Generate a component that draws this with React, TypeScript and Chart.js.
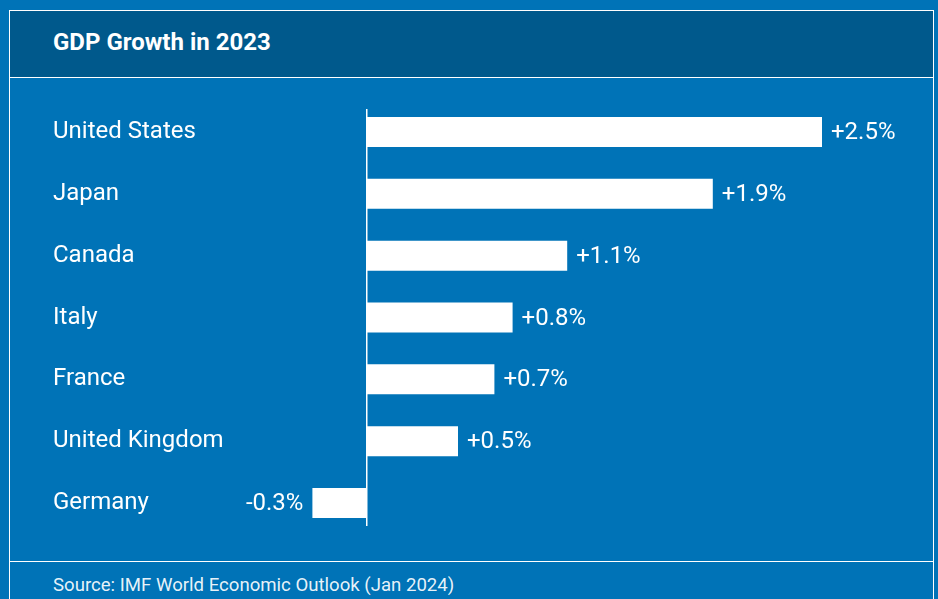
import React, { useEffect, useRef } from "react";
import { Chart, registerables } from "chart.js";

Chart.register(...registerables);

const countries = ["United States", "Japan", "Canada", "Italy", "France", "United Kingdom", "Germany"];
const growth = [2.5, 1.9, 1.1, 0.8, 0.7, 0.5, -0.3];
const xMin = -0.75;
const xMax = 3;
const titleText = "GDP Growth in 2023";
const sourceText = "Source: IMF World Economic Outlook (Jan 2024)";

const BLUE = "#0073b7";
const DARK = "#00598c";
const FONT = "Roboto, 'Noto Sans', sans-serif";

const fmt = (v: number) => (v > 0 ? "+" : "") + v.toFixed(1) + "%";

const valueLabels = {
  id: "valueLabels",
  afterDatasetsDraw(chart: any) {
    const ctx = chart.ctx;
    const meta = chart.getDatasetMeta(0);
    ctx.save();
    ctx.font = `400 24px ${FONT}`;
    ctx.fillStyle = "#ffffff";
    ctx.textBaseline = "middle";
    meta.data.forEach((bar: any, i: number) => {
      const v = growth[i];
      if (v >= 0) {
        ctx.textAlign = "left";
        ctx.fillText(fmt(v), bar.x + 9, bar.y + 1);
      } else {
        ctx.textAlign = "right";
        ctx.fillText(fmt(v), bar.x - 9, bar.y + 1);
      }
    });
    ctx.restore();
  },
};

const zeroLine = {
  id: "zeroLine",
  afterDatasetsDraw(chart: any) {
    const ctx = chart.ctx;
    const x = chart.scales.x.getPixelForValue(0);
    const { top, bottom } = chart.chartArea;
    ctx.save();
    ctx.strokeStyle = "#ffffff";
    ctx.lineWidth = 1.5;
    ctx.beginPath();
    ctx.moveTo(x - 0.25, top + 8);
    ctx.lineTo(x - 0.25, bottom - 8);
    ctx.stroke();
    ctx.restore();
  },
};

export default function App() {
  const canvasRef = useRef<HTMLCanvasElement | null>(null);

  useEffect(() => {
    const canvas = canvasRef.current;
    if (!canvas) return;
    const chart = new Chart(canvas, {
      type: "bar",
      data: {
        labels: countries,
        datasets: [
          {
            data: growth,
            backgroundColor: "#ffffff",
            borderWidth: 0,
            barPercentage: 0.485,
            categoryPercentage: 1,
          },
        ],
      },
      options: {
        indexAxis: "y",
        animation: false,
        responsive: false,
        maintainAspectRatio: false,
        layout: { padding: { top: 23, bottom: 27, left: 43, right: 20 } },
        plugins: {
          legend: { display: false },
          tooltip: { enabled: false },
        },
        scales: {
          x: {
            min: xMin,
            max: xMax,
            display: false,
          },
          y: {
            grid: { display: false },
            border: { display: false },
            ticks: {
              color: "#ffffff",
              font: { family: FONT, size: 24 },
              crossAlign: "far",
              padding: 0,
            },
            afterFit: (scale: any) => {
              scale.width = 177.5;
            },
          },
        },
      },
      plugins: [zeroLine, valueLabels],
    });
    return () => chart.destroy();
  }, []);

  return (
    <div
      style={{
        position: "fixed",
        left: 0,
        top: 0,
        width: 938,
        height: 599,
        background: BLUE,
        overflow: "hidden",
        fontFamily: FONT,
      }}
    >
      <div
        style={{
          position: "absolute",
          left: 9,
          top: 10,
          width: 925,
          height: 620,
          border: "1px solid #ffffff",
          boxSizing: "border-box",
        }}
      />
      <div
        style={{
          position: "absolute",
          left: 10,
          top: 11,
          width: 923,
          height: 66,
          background: DARK,
          borderBottom: "1px solid #ffffff",
        }}
      />
      <div
        style={{
          position: "absolute",
          left: 53,
          top: 30,
          fontSize: 24,
          lineHeight: "24px",
          fontWeight: 700,
          color: "#ffffff",
          whiteSpace: "nowrap",
        }}
      >
        {titleText}
      </div>
      <canvas
        ref={canvasRef}
        width={923}
        height={483}
        style={{ position: "absolute", left: 10, top: 78, width: 923, height: 483 }}
      />
      <div
        style={{
          position: "absolute",
          left: 10,
          top: 561,
          width: 923,
          height: 1,
          background: "#ffffff",
        }}
      />
      <div
        style={{
          position: "absolute",
          left: 53,
          top: 576,
          fontSize: 18.6,
          lineHeight: "18px",
          color: "rgba(255,255,255,0.92)",
          whiteSpace: "nowrap",
        }}
      >
        {sourceText}
      </div>
    </div>
  );
}
